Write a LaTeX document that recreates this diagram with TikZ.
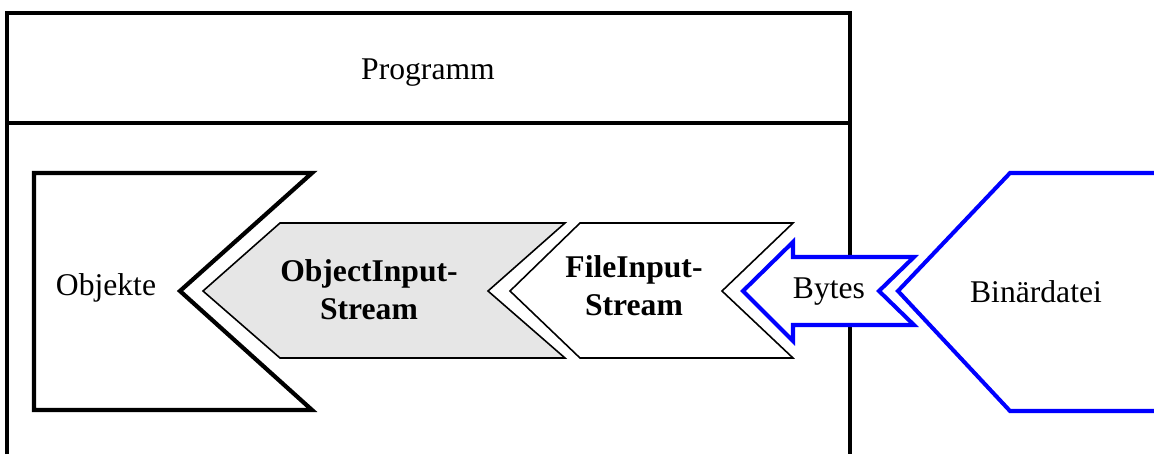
\documentclass[tikz,border=0pt]{standalone}
\usepackage{fontspec}
\setmainfont{Liberation Serif}
\usepackage{tikz}
\usetikzlibrary{positioning}
\definecolor{streamgray}{RGB}{230, 230, 230}

\begin{document}
\begin{tikzpicture}[
  x=0.02cm, y=-0.02cm,
  frame/.style   = {draw, line width=2pt},
  target/.style  = {draw, line width=2.4pt, line join=miter},
  stream/.style  = {draw, line width=0.9pt, line join=miter},
  source/.style  = {draw=blue, line width=2.3pt, line join=miter},
  lbl/.style     = {font=\fontsize{18}{21.6}\selectfont, inner sep=0pt},
  slbl/.style    = {lbl, font=\fontsize{18}{21.6}\selectfont\bfseries,
                    align=center},
]
  \useasboundingbox (0,0) rectangle (1154,454);

  % Program frame
  \draw[frame] (7,454) -- (7,13) -- (850,13) -- (850,454);
  \draw[frame] (7,123) -- (850,123);
  \node[lbl, anchor=base] (prog) at (428,79) {Programm};

  % Objects
  \draw[target] (34,173) -- (312,173) -- (180,291) -- (312,410)
                -- (34,410) -- cycle;
  \node[lbl, anchor=base] (obj) at (106,295) {Objekte};

  % Streams
  \draw[stream, fill=streamgray] (203,291) -- (280,223) -- (565,223)
                -- (488,291) -- (565,358) -- (280,358) -- cycle;
  \node[slbl] (ois) at (369,290) {ObjectInput-\\Stream};

  \draw[stream, fill=white] (510,291) -- (580,223) -- (793,223)
                -- (722,291) -- (793,358) -- (580,358) -- cycle;
  \node[slbl] (fis) at (634,286) {FileInput-\\Stream};

  % Bytes
  \draw[source, fill=white] (743,291) -- (793,242) -- (793,257)
                -- (914,257) -- (879,291) -- (914,325) -- (793,325)
                -- (793,341) -- cycle;
  \node[lbl, anchor=base] (bytes) at (829,298) {Bytes};

  % File
  \draw[source] (1154,173) -- (1010,173) -- (898,291) -- (1010,411)
                -- (1154,411);
  \node[lbl, anchor=base] (file) at (1036,302) {Binärdatei};
\end{tikzpicture}
\end{document}
